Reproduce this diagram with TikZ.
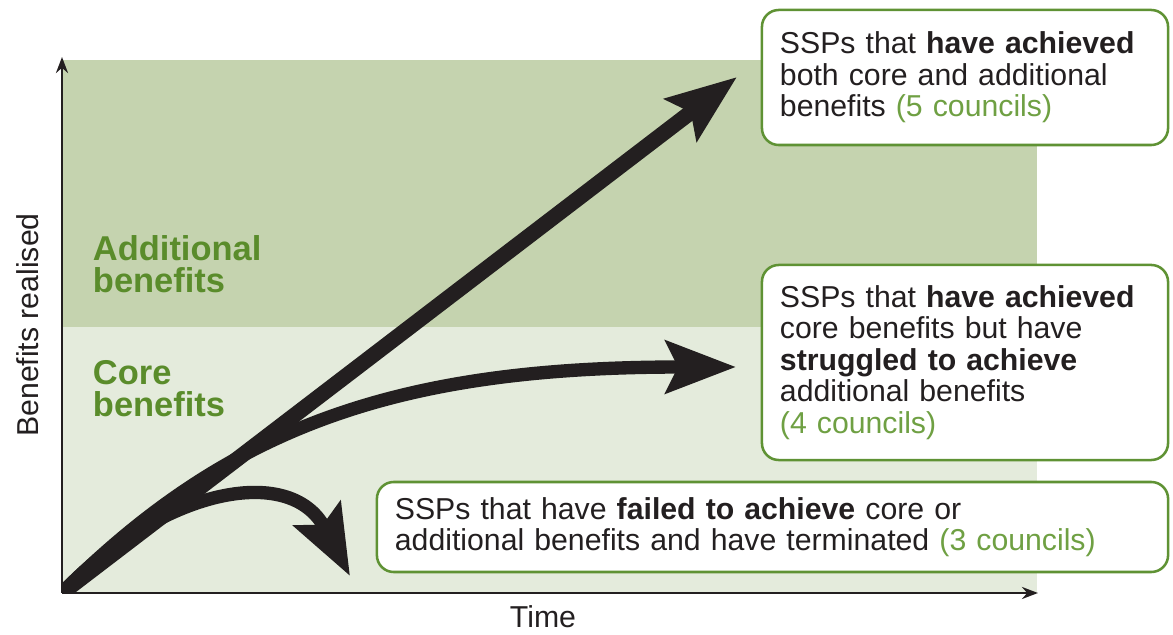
\documentclass[tikz,border=0pt]{standalone}
\usepackage{fontspec}
\setmainfont{Liberation Sans}
\usepackage{xcolor}
\usetikzlibrary{positioning,arrows.meta}

\definecolor{bandtop}{HTML}{C5D3AF}
\definecolor{bandlow}{HTML}{E4EBDC}
\definecolor{ink}{HTML}{231F20}
\definecolor{leaf}{HTML}{5A8C2B}
\definecolor{frame}{HTML}{5F9234}
\definecolor{count}{HTML}{6FA043}

\begin{document}
\begin{tikzpicture}[x=0.025cm, y=-0.025cm, >=Stealth, font=\fontsize{21.5}{22.4}\selectfont]
\tikzstyle{box}=[
    draw=frame, line width=1.8pt,
    rounded corners=0.42cm,
    fill=white, text=ink,
    align=left,
    inner xsep=0.45cm
]
\tikzstyle{band}=[
    text=leaf, align=left, anchor=west,
    font=\fontsize{24.5}{22.8}\selectfont\bfseries
]
\tikzstyle{axis}=[ink, line width=2.1pt, -{Stealth[length=0.4cm,width=0.3cm]}]
\tikzstyle{trend}=[ink, -{Stealth[length=1.75cm,width=1.3cm,inset=0.3cm]}]

\useasboundingbox (0,0) rectangle (1173,635);

% shaded bands
\fill[bandtop] (62,60) rectangle (1037,327);
\fill[bandlow] (62,327) rectangle (1037,593);

\node[band] (extra) at (88,264) {Additional\\benefits};
\node[band] (core) at (88,389) {Core\\benefits};

% axes
\coordinate (o) at (62,593);
\coordinate (ytop) at (62,57);
\coordinate (xend) at (1038,593);
\draw[axis] (o) -- (ytop);
\draw[axis] (o) -- (xend);
\node[text=ink, rotate=90] (ylab) at (28,325) {Benefits realised};
\node[text=ink] (xlab) at (543,617) {Time};

% outcome boxes
\node[box, text width=9.25cm, minimum height=3.375cm] (both) at (965,77.5)
    {SSPs that \textbf{have achieved}\\both core and additional\\benefits \textcolor{count}{(5 councils)}};
\node[box, text width=9.25cm, minimum height=4.875cm] (part) at (965,362.5)
    {SSPs that \textbf{have achieved}\\core benefits but have\\\textbf{struggled to achieve}\\additional benefits\\\textcolor{count}{(4 councils)}};
\node[box, text width=18.875cm, minimum height=2.25cm] (fail) at (772.5,527)
    {SSPs that have \textbf{failed to achieve} core or\\additional benefits and have terminated \textcolor{count}{(3 councils)}};

% trend arrows, cut at the axes
\coordinate (tipboth) at (737,77);
\coordinate (tippart) at (736,367);
\coordinate (tipfail) at (350,576);
\begin{scope}
\clip (62,0) rectangle (1173,593);
\draw[trend, line width=11pt] (o) -- (tipboth);
\draw[trend, line width=9.5pt] (o) .. controls (230,425) and (400,367) .. (tippart);
\draw[trend, line width=9.5pt] (o) .. controls (160,490) and (290,462) .. (tipfail);
\end{scope}
\end{tikzpicture}
\end{document}
